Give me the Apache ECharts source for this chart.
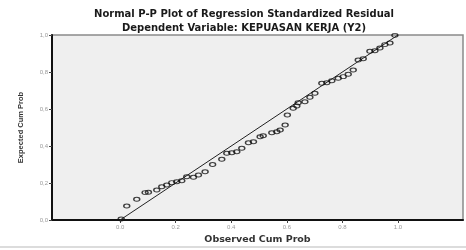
<!DOCTYPE html>
<html>
<head>
<meta charset="utf-8">
<script src="https://cdn.jsdelivr.net/npm/echarts@6/dist/echarts.min.js"></script>
<style>
  html, body { margin: 0; padding: 0; background: #fff; }
  #chart { width: 466px; height: 250px; }
</style>
</head>
<body>
<div id="chart"></div>
<script>
// observed cum prob (x) / expected cum prob (y)
var observed = [0.004, 0.024, 0.060, 0.090, 0.102, 0.132, 0.150, 0.168, 0.186, 0.204,
  0.222, 0.240, 0.264, 0.282, 0.306, 0.333, 0.366, 0.384, 0.402, 0.420,
  0.438, 0.462, 0.480, 0.504, 0.515, 0.546, 0.564, 0.576, 0.594, 0.602,
  0.623, 0.636, 0.641, 0.665, 0.683, 0.701, 0.726, 0.744, 0.762, 0.785,
  0.803, 0.821, 0.839, 0.857, 0.875, 0.899, 0.917, 0.935, 0.953, 0.971, 0.989];
var expected = [0.005, 0.076, 0.112, 0.148, 0.150, 0.162, 0.180, 0.189, 0.202, 0.207,
  0.212, 0.234, 0.231, 0.243, 0.261, 0.300, 0.328, 0.361, 0.364, 0.369,
  0.388, 0.418, 0.423, 0.450, 0.456, 0.472, 0.477, 0.486, 0.514, 0.568,
  0.604, 0.616, 0.634, 0.639, 0.663, 0.685, 0.739, 0.742, 0.753, 0.766,
  0.775, 0.788, 0.811, 0.865, 0.872, 0.912, 0.915, 0.930, 0.948, 0.957, 0.998];
var xTicks = [0, 0.2, 0.4, 0.6, 0.8, 1.0];
var diagonal = [[0, 0], [1, 1]];

var chart = echarts.init(document.getElementById('chart'));

var points = [];
for (var i = 0; i < observed.length; i++) {
  points.push([observed[i], expected[i]]);
}

var titleFont = { fontFamily: 'DejaVu Sans', fontSize: 10, fontWeight: 'bold', color: '#1a1a1a' };

var option = {
  backgroundColor: '#fff',
  animation: false,
  title: [{
    text: 'Normal P-P Plot of Regression Standardized Residual',
    left: 239, top: 4, textAlign: 'center',
    textStyle: titleFont
  }, {
    text: 'Dependent Variable: KEPUASAN KERJA (Y2)',
    left: 239, top: 18, textAlign: 'center',
    textStyle: titleFont
  }],
  grid: {
    left: 52, right: 3, top: 35, bottom: 30,
    show: true, backgroundColor: '#efefef', borderColor: '#8a8a8a', borderWidth: 1.5
  },
  xAxis: {
    type: 'value',
    min: -0.245, max: 1.234,
    name: 'Observed Cum Prob',
    nameLocation: 'middle', nameGap: 15,
    nameTextStyle: { fontFamily: 'DejaVu Sans', fontSize: 9.5, fontWeight: 'bold', color: '#333' },
    axisLine: { onZero: false, lineStyle: { color: '#111', width: 2 } },
    axisTick: { show: true, customValues: xTicks, length: 3, lineStyle: { color: '#444' } },
    axisLabel: {
      customValues: xTicks, fontSize: 6, color: '#999', margin: 4,
      formatter: function (v) { return v.toFixed(1); }
    },
    splitLine: { show: false }
  },
  yAxis: {
    type: 'value',
    min: 0, max: 1, interval: 0.2,
    name: 'Expected Cum Prob',
    nameLocation: 'middle', nameGap: 27,
    nameTextStyle: { fontFamily: 'Liberation Sans', fontSize: 7.5, fontWeight: 'bold', color: '#333' },
    axisLine: { show: true, onZero: false, lineStyle: { color: '#111', width: 2 } },
    axisTick: { show: true, length: 3, lineStyle: { color: '#444' } },
    axisLabel: {
      fontSize: 6, color: '#999', margin: 4,
      formatter: function (v) { return v.toFixed(1).replace('.', ','); }
    },
    splitLine: { show: false }
  },
  graphic: [{
    type: 'rect',
    shape: { x: 0, y: 246, width: 466, height: 2 },
    style: { fill: '#dcdcdc' }
  }],
  series: [{
    type: 'line',
    data: diagonal,
    symbol: 'none',
    lineStyle: { color: '#222', width: 1 },
    z: 2
  }, {
    type: 'scatter',
    data: points,
    symbol: 'circle',
    symbolSize: [6, 4],
    itemStyle: { color: 'rgba(0,0,0,0)', borderColor: '#111', borderWidth: 1.2 },
    z: 3
  }]
};

chart.setOption(option);
</script>
</body>
</html>
